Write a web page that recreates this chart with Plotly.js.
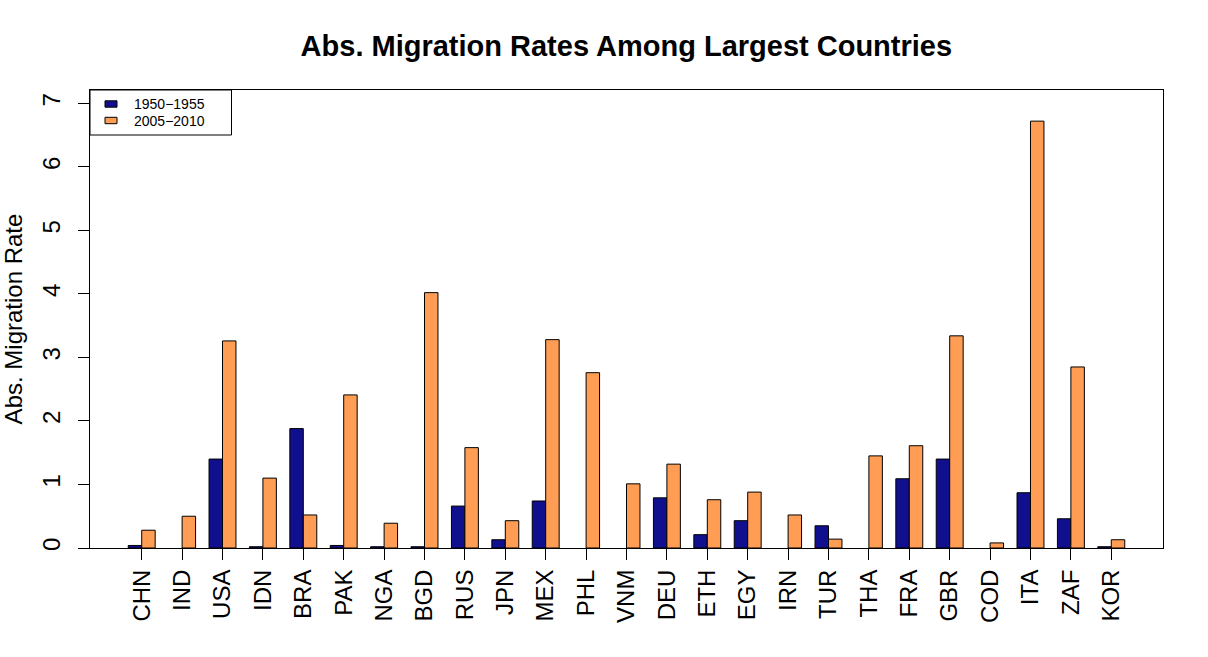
<!DOCTYPE html>
<html>
<head>
<meta charset="utf-8">
<script src="https://cdn.plot.ly/plotly-3.0.1.min.js"></script>
<style>html,body{margin:0;padding:0;background:#fff;}#chart{width:1208px;height:657px;}</style>
</head>
<body>
<div id="chart"></div>
<script>
const countries = ["CHN","IND","USA","IDN","BRA","PAK","NGA","BGD","RUS","JPN","MEX","PHL","VNM","DEU","ETH","EGY","IRN","TUR","THA","FRA","GBR","COD","ITA","ZAF","KOR"];
const rates1950 = [0.04,null,1.40,0.02,1.88,0.04,0.02,0.02,0.66,0.13,0.74,null,null,0.79,0.21,0.43,null,0.35,null,1.09,1.40,null,0.87,0.46,0.02];
const rates2005 = [0.28,0.50,3.26,1.10,0.52,2.41,0.39,4.02,1.58,0.43,3.28,2.76,1.01,1.32,0.76,0.88,0.52,0.14,1.45,1.61,3.34,0.08,6.72,2.85,0.13];
const seriesNames = ["1950\u22121955","2005\u22122010"];
const seriesColors = ["#10108F","#FF9D55"];
const yTicks = [0,1,2,3,4,5,6,7];

const fontFam = "Liberation Sans, Arial, sans-serif";
const traces = [
  {type:"bar", x:countries, y:rates1950, name:seriesNames[0],
   marker:{color:seriesColors[0], line:{color:"#000", width:1}}},
  {type:"bar", x:countries, y:rates2005, name:seriesNames[1],
   marker:{color:seriesColors[1], line:{color:"#000", width:1}}}
];
const n = countries.length;

// legend drawn R-style (compact box) in paper coordinates
const plotW = 1208 - 90 - 45, plotH = 657 - 90 - 109;
const px = v => v / plotW, py = v => 1 - v / plotH;
const shapes = [
  {type:"rect", xref:"paper", yref:"paper", x0:0, x1:px(141.5), y0:py(45), y1:1,
   line:{color:"#000", width:1}, fillcolor:"#fff", layer:"above"}
];
const annotations = [];
seriesNames.forEach((nm, i) => {
  const cy = 14 + i * 16.5;
  shapes.push({type:"rect", xref:"paper", yref:"paper", x0:px(15), x1:px(27), y0:py(cy - 3.2), y1:py(cy + 3.2),
               line:{color:"#000", width:1}, fillcolor:seriesColors[i], layer:"above"});
  annotations.push({xref:"paper", yref:"paper", x:px(43), y:py(cy), xanchor:"left", yanchor:"middle",
                    text:nm, showarrow:false, borderpad:0, font:{size:14, family:fontFam, color:"#000"}});
});

const layout = {
  width:1208, height:657,
  margin:{l:90, r:45, t:90, b:109},
  paper_bgcolor:"#fff", plot_bgcolor:"#fff",
  font:{family:fontFam, color:"#000"},
  barmode:"group", bargap:1/3, bargroupgap:0,
  showlegend:false,
  title:{text:"<b>Abs. Migration Rates Among Largest Countries</b>", x:0.5185, xanchor:"center", y:0.93, yanchor:"middle",
         font:{size:29, family:fontFam, color:"#000"}},
  xaxis:{type:"category", range:[-1.28, n - 1 + 1.28], showgrid:false, zeroline:false,
         showline:true, mirror:true, linecolor:"#000", linewidth:1,
         ticks:"outside", ticklen:11, tickwidth:1, tickcolor:"#000",
         tickangle:-90, tickfont:{size:24, family:fontFam}, automargin:false},
  yaxis:{range:[0, 7.21], tickvals:yTicks, ticktext:yTicks.map(String), showgrid:false, zeroline:false,
         showline:true, mirror:true, linecolor:"#000", linewidth:1,
         ticks:"outside", ticklen:11, tickwidth:1, tickcolor:"#000", ticklabelstandoff:8,
         tickangle:-90, tickfont:{size:24, family:fontFam}, automargin:false,
         title:{text:"Abs. Migration Rate", font:{size:24, family:fontFam}, standoff:12}},
  shapes:shapes,
  annotations:annotations
};
Plotly.newPlot("chart", traces, layout, {staticPlot:true, displayModeBar:false});
</script>
</body>
</html>
